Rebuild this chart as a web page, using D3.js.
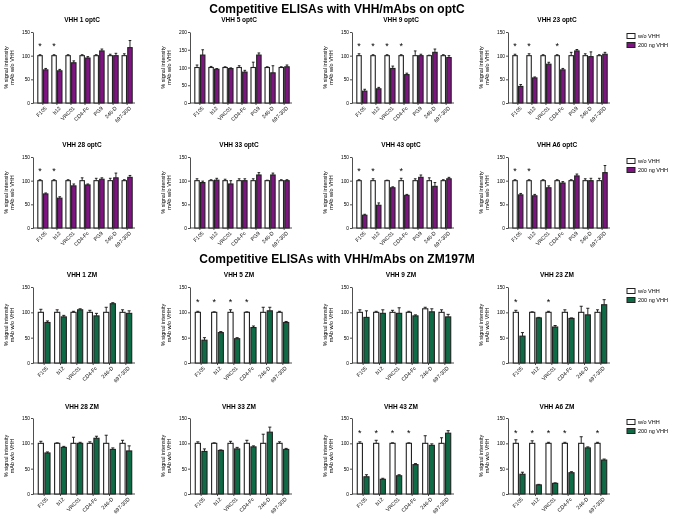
<!DOCTYPE html>
<html lang="en">
<head>
<meta charset="UTF-8">
<title>Competitive ELISAs</title>
<script src="https://d3js.org/d3.v7.min.js"></script>
<style>
  body { margin: 0; background: #fff; }
  svg { font-family: "Liberation Sans", Arial, sans-serif; will-change: transform; }
</style>
</head>
<body>
<svg id="chart" width="675" height="519"></svg>
<script>
  // categories
  var optcCats = ["F105", "b12", "VRC01", "CD4-Fc", "PG9", "246-D", "697-30D"];
  var zmCats = ["F105", "b12", "VRC01", "CD4-Fc", "246-D", "697-30D"];

  // optC panels
  var optcTitles = ["VHH 1 optC", "VHH 5 optC", "VHH 9 optC", "VHH 23 optC",
                    "VHH 28 optC", "VHH 33 optC", "VHH 43 optC", "VHH A6 optC"];
  var optcMax = [150, 200, 150, 150, 150, 150, 150, 150];
  var optcWo = [
    [100, 100, 100, 100, 100, 100, 100],
    [100, 100, 100, 100, 100, 100, 100],
    [100, 100, 100, 100, 100, 100, 100],
    [100, 100, 100, 100, 100, 100, 100],
    [100, 100, 100, 100, 100, 100, 100],
    [100, 100, 100, 100, 100, 100, 100],
    [100, 100, 100, 100, 100, 100, 100],
    [100, 100, 100, 100, 100, 100, 100]
  ];
  var optcWoErr = [
    [2, 2, 2, 2, 2, 3, 4],
    [7, 3, 2, 5, 15, 2, 2],
    [4, 2, 2, 2, 10, 1, 2],
    [3, 4, 2, 2, 7, 4, 2],
    [2, 2, 2, 6, 5, 5, 2],
    [4, 2, 3, 4, 4, 1, 2],
    [2, 4, 1, 5, 4, 6, 2],
    [2, 2, 2, 2, 2, 4, 5]
  ];
  var optcVhh = [
    [70, 68, 85, 95, 110, 100, 117],
    [135, 95, 97, 87, 135, 85, 102],
    [25, 30, 73, 60, 100, 107, 96],
    [35, 53, 82, 70, 110, 98, 103],
    [72, 63, 89, 91, 103, 106, 107],
    [96, 101, 93, 100, 112, 112, 100],
    [27, 48, 85, 69, 107, 88, 104],
    [70, 68, 85, 95, 110, 100, 117]
  ];
  var optcVhhErr = [
    [3, 3, 4, 3, 4, 5, 15],
    [15, 2, 2, 5, 6, 20, 5],
    [4, 3, 5, 3, 3, 7, 4],
    [4, 2, 4, 3, 3, 10, 4],
    [2, 3, 4, 2, 3, 10, 4],
    [3, 4, 7, 4, 5, 4, 2],
    [2, 5, 2, 2, 5, 8, 3],
    [3, 3, 4, 3, 4, 5, 15]
  ];
  var optcStars = [
    [1, 1, 0, 0, 0, 0, 0],
    [0, 0, 0, 0, 0, 0, 0],
    [1, 1, 1, 1, 0, 0, 0],
    [1, 1, 0, 1, 0, 0, 0],
    [1, 1, 0, 0, 0, 0, 0],
    [0, 0, 0, 0, 0, 0, 0],
    [1, 1, 0, 1, 0, 0, 0],
    [1, 1, 0, 0, 0, 0, 0]
  ];

  // ZM197M panels
  var zmTitles = ["VHH 1 ZM", "VHH 5 ZM", "VHH 9 ZM", "VHH 23 ZM",
                  "VHH 28 ZM", "VHH 33 ZM", "VHH 43 ZM", "VHH A6 ZM"];
  var zmMax = [150, 150, 150, 150, 150, 150, 150, 150];
  var zmWo = [
    [100, 100, 100, 100, 100, 100],
    [100, 100, 100, 100, 100, 100],
    [100, 100, 100, 100, 107, 100],
    [100, 100, 100, 100, 100, 100],
    [100, 100, 100, 100, 100, 100],
    [100, 100, 100, 100, 100, 100],
    [100, 100, 100, 100, 100, 100],
    [100, 100, 100, 100, 100, 100]
  ];
  var zmWoErr = [
    [6, 5, 2, 4, 10, 5],
    [2, 1, 5, 1, 10, 2],
    [5, 2, 4, 2, 3, 5],
    [4, 1, 2, 5, 12, 5],
    [4, 1, 12, 3, 16, 6],
    [3, 1, 4, 6, 18, 3],
    [3, 6, 1, 1, 15, 11],
    [7, 5, 2, 2, 13, 2]
  ];
  var zmVhh = [
    [80, 91, 105, 93, 117, 98],
    [45, 60, 48, 70, 103, 80],
    [90, 98, 98, 93, 101, 91],
    [53, 89, 71, 88, 95, 115],
    [81, 92, 100, 110, 88, 85],
    [84, 86, 89, 93, 122, 88],
    [34, 29, 36, 58, 96, 120],
    [39, 18, 21, 42, 91, 67]
  ];
  var zmVhhErr = [
    [3, 3, 2, 5, 2, 5],
    [5, 2, 2, 3, 7, 2],
    [13, 7, 11, 2, 6, 5],
    [7, 1, 3, 1, 13, 10],
    [2, 2, 2, 4, 3, 10],
    [5, 1, 3, 2, 10, 2],
    [4, 2, 2, 2, 3, 5],
    [4, 1, 1, 2, 2, 2]
  ];
  var zmStars = [
    [0, 0, 0, 0, 0, 0],
    [1, 1, 1, 1, 0, 0],
    [0, 0, 0, 0, 0, 0],
    [1, 0, 1, 0, 0, 0],
    [0, 0, 0, 0, 0, 0],
    [0, 0, 0, 0, 0, 0],
    [1, 1, 1, 1, 0, 0],
    [1, 1, 1, 1, 0, 1]
  ];

  var seriesNames = ["w/o VHH", "200 ng VHH"];
  var purple = "#7e1482";
  var green = "#0e6b45";

  var svg = d3.select("#chart");

  // layout
  var colX = [33, 190, 352, 508];
  var plotW = 102;
  var rows = [
    {top: 32, bottom: 103, titleY: 22},
    {top: 157, bottom: 228, titleY: 147},
    {top: 287, bottom: 363, titleY: 277},
    {top: 418, bottom: 494, titleY: 409}
  ];

  svg.append("text")
    .attr("x", 337).attr("y", 13)
    .attr("text-anchor", "middle")
    .style("font-size", "12px").style("font-weight", "bold")
    .text("Competitive ELISAs with VHH/mAbs on optC");

  svg.append("text")
    .attr("x", 337).attr("y", 263)
    .attr("text-anchor", "middle")
    .style("font-size", "12px").style("font-weight", "bold")
    .text("Competitive ELISAs with VHH/mAbs on ZM197M");

  function drawPanel(px, row, title, cats, ymax, wo, woErr, vhh, vhhErr, stars, color) {
    var g = svg.append("g");

    var x = d3.scaleBand()
      .domain(cats)
      .range([px + 2, px + plotW])
      .paddingInner(0.28)
      .paddingOuter(0.2);

    var xs = d3.scaleBand()
      .domain([0, 1])
      .range([0, x.bandwidth()])
      .paddingInner(0.22);

    var y = d3.scaleLinear()
      .domain([0, ymax])
      .range([row.bottom, row.top]);

    g.append("text")
      .attr("x", px + plotW / 2 - 2).attr("y", row.titleY)
      .attr("text-anchor", "middle")
      .style("font-size", "6.5px").style("font-weight", "bold")
      .text(title);

    // y label
    var ymid = (row.top + row.bottom) / 2;
    var lab = g.append("text")
      .attr("transform", "translate(" + (px - 25) + "," + ymid + ") rotate(-90)")
      .attr("text-anchor", "middle")
      .attr("fill", "#000")
      .style("font-size", "5.5px");
    lab.append("tspan").attr("x", 0).attr("dy", 0).text("% signal intensity");
    lab.append("tspan").attr("x", 0).attr("dy", 6).text("mAb w/o VHH");

    var yTicks = d3.range(0, ymax + 1, 50);
    var yAxis = g.append("g")
      .attr("transform", "translate(" + px + ",0)")
      .call(d3.axisLeft(y).tickValues(yTicks).tickSize(2).tickSizeOuter(0).tickPadding(1));
    yAxis.selectAll("text").attr("fill", "#000").style("font-size", "4.8px");

    var xAxis = g.append("g")
      .attr("transform", "translate(0," + row.bottom + ")")
      .call(d3.axisBottom(x).tickSize(2).tickSizeOuter(0));
    xAxis.select(".domain").attr("d", "M" + px + ",0H" + (px + plotW));
    xAxis.selectAll("text")
      .attr("fill", "#000")
      .style("font-size", "5.3px")
      .attr("text-anchor", "end")
      .attr("dx", "-1px").attr("dy", "2px")
      .attr("transform", "rotate(-45)");
    g.selectAll(".domain, .tick line").attr("stroke", "#222").attr("stroke-width", 0.8);

    var items = [];
    cats.forEach(function (c, i) {
      items.push({cat: c, s: 0, v: wo[i], e: woErr[i]});
      items.push({cat: c, s: 1, v: vhh[i], e: vhhErr[i]});
    });

    // error bars (upper only)
    var eb = g.selectAll(".eb").data(items).enter().append("g");
    eb.append("line")
      .attr("x1", function (d) { return x(d.cat) + xs(d.s) + xs.bandwidth() / 2; })
      .attr("x2", function (d) { return x(d.cat) + xs(d.s) + xs.bandwidth() / 2; })
      .attr("y1", function (d) { return y(d.v); })
      .attr("y2", function (d) { return y(d.v + d.e); })
      .attr("stroke", "#111").attr("stroke-width", 0.9);
    eb.append("line")
      .attr("x1", function (d) { return x(d.cat) + xs(d.s) + xs.bandwidth() * 0.2; })
      .attr("x2", function (d) { return x(d.cat) + xs(d.s) + xs.bandwidth() * 0.8; })
      .attr("y1", function (d) { return y(d.v + d.e); })
      .attr("y2", function (d) { return y(d.v + d.e); })
      .attr("stroke", "#111").attr("stroke-width", 0.9);

    g.selectAll(".bar").data(items).enter().append("rect")
      .attr("x", function (d) { return x(d.cat) + xs(d.s); })
      .attr("y", function (d) { return y(d.v); })
      .attr("width", xs.bandwidth())
      .attr("height", function (d) { return y(0) - y(d.v); })
      .attr("fill", function (d) { return d.s === 0 ? "#fff" : color; })
      .attr("stroke", "#222")
      .attr("stroke-width", 1.1);

    // significance stars
    g.selectAll(".star").data(cats.filter(function (c, i) { return stars[i]; }))
      .enter().append("text")
      .attr("x", function (c) { return x(c) + xs(0) + xs.bandwidth() / 2; })
      .attr("y", y(125) + 5)
      .attr("text-anchor", "middle")
      .style("font-size", "9px")
      .text("*");
  }

  function drawLegend(row, color) {
    var lg = svg.append("g").attr("transform", "translate(627," + (row.top + 4) + ")");
    seriesNames.forEach(function (name, i) {
      lg.append("rect")
        .attr("x", 0).attr("y", i * 9 - 2.5)
        .attr("width", 8).attr("height", 5)
        .attr("fill", i === 0 ? "#fff" : color)
        .attr("stroke", "#222").attr("stroke-width", 1);
      lg.append("text")
        .attr("x", 11).attr("y", i * 9 + 1.8)
        .style("font-size", "5.5px")
        .text(name);
    });
  }

  for (var p = 0; p < 8; p++) {
    var r = p < 4 ? 0 : 1;
    drawPanel(colX[p % 4], rows[r], optcTitles[p], optcCats, optcMax[p],
      optcWo[p], optcWoErr[p], optcVhh[p], optcVhhErr[p], optcStars[p], purple);
    drawPanel(colX[p % 4], rows[r + 2], zmTitles[p], zmCats, zmMax[p],
      zmWo[p], zmWoErr[p], zmVhh[p], zmVhhErr[p], zmStars[p], green);
  }
  rows.forEach(function (row, i) {
    drawLegend(row, i < 2 ? purple : green);
  });
</script>
</body>
</html>
